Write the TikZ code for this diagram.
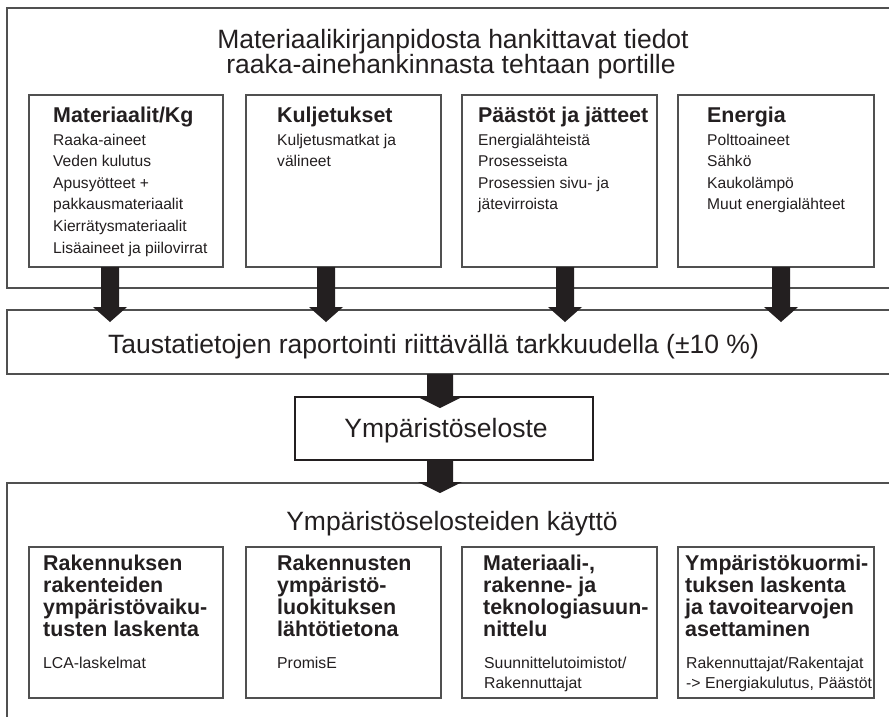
\documentclass[tikz,border=0pt]{standalone}
\usepackage{fontspec}
\setmainfont{Liberation Sans}
\usetikzlibrary{calc}
\definecolor{ink}{RGB}{35,31,32}
\definecolor{rulec}{RGB}{80,80,80}
\begin{document}
\begin{tikzpicture}[x=1pt,y=-1pt,
  box/.style={draw=rulec, line width=1.3pt, inner sep=0pt, outer sep=0pt, anchor=north west},
  bigtxt/.style={font=\fontsize{26.5}{30}\selectfont, text=ink, inner sep=0pt},
  headtxt/.style={font=\bfseries\fontsize{21.4}{24}\selectfont, text=ink, inner sep=0pt, anchor=base west},
  bodytxt/.style={font=\fontsize{15.6}{18}\selectfont, text=ink, inner sep=0pt, anchor=base west},
  lowbody/.style={bodytxt, font=\fontsize{15.8}{18}\selectfont},
  fatarrow/.style n args={3}{to path={let \p1=(\tikztostart),\p2=(\tikztotarget) in
    (\x1-#1/2,\y1) -- (\x1+#1/2,\y1) -- (\x1+#1/2,\y2+#3) -- (\x1+#2/2,\y2+#3) -- (\x1,\y2)
    -- (\x1-#2/2,\y2+#3) -- (\x1-#1/2,\y2+#3) -- cycle}},
]
\useasboundingbox (0,0) rectangle (889,716);
\clip (0,0) rectangle (889,716);
\fill[white] (0,0) rectangle (889,716);

% outer frames
\node[box, minimum width=898pt, minimum height=280pt] (top) at (7,8) {};
\node[box, minimum width=898pt, minimum height=64pt] (band) at (7,310) {};
\node[box, minimum width=898pt, minimum height=257pt] (low) at (7,483) {};
\node[box, draw=ink, line width=2.6pt, fill=white, minimum width=298pt, minimum height=63pt] (ymp) at (295,397) {};

% top inner boxes
\node[box, minimum width=194pt, minimum height=172pt] (b1) at (29,95) {};
\node[box, minimum width=195pt, minimum height=172pt] (b2) at (246,95) {};
\node[box, minimum width=195pt, minimum height=172pt] (b3) at (462,95) {};
\node[box, minimum width=196pt, minimum height=172pt] (b4) at (678,95) {};

% lower inner boxes
\node[box, minimum width=194pt, minimum height=151pt] (c1) at (29,547) {};
\node[box, minimum width=195pt, minimum height=151pt] (c2) at (246,547) {};
\node[box, minimum width=195pt, minimum height=151pt] (c3) at (462,547) {};
\node[box, minimum width=196pt, minimum height=151pt] (c4) at (678,547) {};

% titles
\node[bigtxt, anchor=base] (t1) at (453,48) {Materiaalikirjanpidosta hankittavat tiedot};
\node[bigtxt, anchor=base] (t2) at (451,73) {raaka-ainehankinnasta tehtaan portille};
\node[bigtxt, anchor=base] (bt) at (433.5,353) {Taustatietojen raportointi riittävällä tarkkuudella (±10 \%)};
\node[bigtxt, anchor=base] (yt) at (446,437) {Ympäristöseloste};
\node[bigtxt, anchor=base] (lt) at (452,530) {Ympäristöselosteiden käyttö};

% top box texts
\node[headtxt] (h1) at (53,122) {Materiaalit/Kg};
\node[headtxt] (h2) at (277,122) {Kuljetukset};
\node[headtxt] (h3) at (478,122) {Päästöt ja jätteet};
\node[headtxt] (h4) at (707,122) {Energia};
\foreach \t [count=\i] in {Raaka-aineet, Veden kulutus, Apusyötteet +, pakkausmateriaalit, Kierrätysmateriaalit, Lisäaineet ja piilovirrat}
  \node[bodytxt] (p1-\i) at (53,{123.4+21.6*\i}) {\t};
\foreach \t [count=\i] in {Kuljetusmatkat ja, välineet}
  \node[bodytxt] (p2-\i) at (277,{123.4+21.6*\i}) {\t};
\foreach \t [count=\i] in {Energialähteistä, Prosesseista, Prosessien sivu- ja, jätevirroista}
  \node[bodytxt] (p3-\i) at (478,{123.4+21.6*\i}) {\t};
\foreach \t [count=\i] in {Polttoaineet, Sähkö, Kaukolämpö, Muut energialähteet}
  \node[bodytxt] (p4-\i) at (707,{123.4+21.6*\i}) {\t};

% lower box texts
\foreach \t [count=\i] in {Rakennuksen, rakenteiden, ympäristövaiku-, tusten laskenta}
  \node[headtxt] (k1-\i) at (43,{547.7+22.3*\i}) {\t};
\foreach \t [count=\i] in {Rakennusten, ympäristö-, luokituksen, lähtötietona}
  \node[headtxt] (k2-\i) at (277,{547.7+22.3*\i}) {\t};
\foreach \t [count=\i] in {{Materiaali-,}, rakenne- ja, teknologiasuun-, nittelu}
  \node[headtxt] (k3-\i) at (483,{547.7+22.3*\i}) {\t};
\foreach \t [count=\i] in {Ympäristökuormi-, tuksen laskenta, ja tavoitearvojen, asettaminen}
  \node[headtxt] (k4-\i) at (685,{547.7+22.3*\i}) {\t};
\node[lowbody] (q1) at (43,668) {LCA-laskelmat};
\node[lowbody] (q2) at (277,668) {PromisE};
\node[lowbody] (q3a) at (484,668) {Suunnittelutoimistot/};
\node[lowbody] (q3b) at (484,688) {Rakennuttajat};
\node[lowbody] (q4a) at (686,668) {Rakennuttajat/Rakentajat};
\node[lowbody] (q4b) at (686,688) {-> Energiakulutus, Päästöt};

% arrows
\fill[ink, fatarrow={18pt}{34pt}{15pt}] ($(b1.south)+(-16,0)$) to ($(b1.south |- band.north)+(-16,12)$);
\fill[ink, fatarrow={18pt}{34pt}{15pt}] ($(b2.south)+(-17.5,0)$) to ($(b2.south |- band.north)+(-17.5,12)$);
\fill[ink, fatarrow={18pt}{34pt}{15pt}] ($(b3.south)+(5.5,0)$) to ($(b3.south |- band.north)+(5.5,12)$);
\fill[ink, fatarrow={18pt}{34pt}{15pt}] ($(b4.south)+(5,0)$) to ($(b4.south |- band.north)+(5,12)$);
\fill[ink, fatarrow={26pt}{44pt}{11pt}] ($(band.south -| ymp.north)+(-4,0)$) to ($(ymp.north)+(-4,11)$);
\fill[ink, fatarrow={26pt}{44pt}{11pt}] ($(ymp.south)+(-4,0)$) to ($(ymp.south |- low.north)+(-4,10)$);
\end{tikzpicture}
\end{document}
